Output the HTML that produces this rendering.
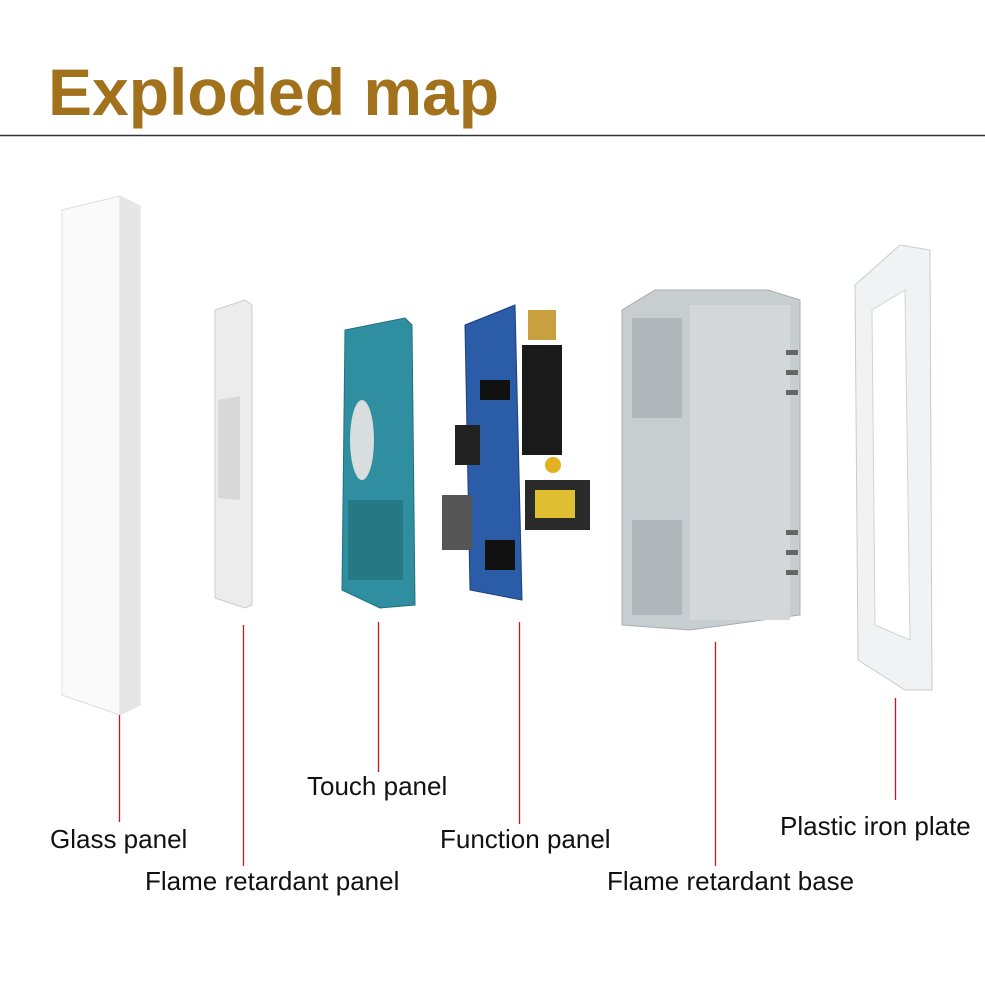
<!DOCTYPE html>
<html><head><style>
html,body{margin:0;padding:0;background:#fff;width:985px;height:985px;overflow:hidden}
svg{display:block}
text{font-family:"Liberation Sans",sans-serif}
</style></head><body>
<svg width="985" height="985" viewBox="0 0 985 985" xmlns="http://www.w3.org/2000/svg">
<rect width="985" height="985" fill="#fff"/>
<text x="48" y="115" font-size="66" font-weight="bold" fill="#a2711c">Exploded map</text>
<line x1="0" y1="135.5" x2="985" y2="135.5" stroke="#333" stroke-width="1.5"/>

<polygon points="62,210 120,196 140,206 140,705 120,715 62,695" fill="#f4f4f4" stroke="#ddd"/>
<polygon points="120,196 140,206 140,705 120,715" fill="#e6e6e6"/>
<polygon points="62,210 120,196 120,715 62,695" fill="#fafafa" stroke="#e0e0e0"/>

<polygon points="215,310 245,300 252,305 252,605 245,608 215,598" fill="#ececec" stroke="#ccc"/>
<polygon points="218,400 240,396 240,500 218,498" fill="#d8d8d8"/>

<polygon points="345,330 405,318 412,325 415,605 380,608 342,590" fill="#2f8fa0" stroke="#23707d"/>
<ellipse cx="362" cy="440" rx="12" ry="40" fill="#d8dde0"/>
<rect x="348" y="500" width="55" height="80" fill="#267885"/>

<polygon points="465,325 515,305 522,600 470,590" fill="#2a5ca8" stroke="#1d417a"/>
<rect x="522" y="345" width="40" height="110" fill="#1a1a1a"/>
<rect x="528" y="310" width="28" height="30" fill="#c8a040"/>
<rect x="525" y="480" width="65" height="50" fill="#2a2a2a"/>
<rect x="535" y="490" width="40" height="28" fill="#e0c030"/>
<rect x="455" y="425" width="25" height="40" fill="#222"/>
<rect x="442" y="495" width="30" height="55" fill="#555"/>
<circle cx="553" cy="465" r="8" fill="#e2b020"/>
<rect x="480" y="380" width="30" height="20" fill="#111"/>
<rect x="485" y="540" width="30" height="30" fill="#111"/>

<polygon points="622,310 655,290 768,290 800,300 800,615 690,630 622,625" fill="#c8cdd0" stroke="#a8adb0"/>
<rect x="632" y="318" width="50" height="100" fill="#b0b6ba"/>
<rect x="632" y="520" width="50" height="95" fill="#b0b6ba"/>
<rect x="690" y="305" width="100" height="315" fill="#d3d7da"/>
<g fill="#666"><rect x="786" y="350" width="12" height="5"/><rect x="786" y="370" width="12" height="5"/><rect x="786" y="390" width="12" height="5"/><rect x="786" y="530" width="12" height="5"/><rect x="786" y="550" width="12" height="5"/><rect x="786" y="570" width="12" height="5"/></g>

<polygon points="855,285 900,245 930,250 932,690 905,690 858,660" fill="#f0f2f4" stroke="#c8ccd0"/>
<polygon points="872,310 905,290 910,640 875,625" fill="#fff" stroke="#d0d4d8"/>

<g stroke="#d0141c" stroke-width="1.3">
<line x1="119.5" y1="715" x2="119.5" y2="822"/>
<line x1="243.5" y1="625" x2="243.5" y2="866"/>
<line x1="378.5" y1="622" x2="378.5" y2="772"/>
<line x1="519.5" y1="622" x2="519.5" y2="824"/>
<line x1="715.5" y1="642" x2="715.5" y2="866"/>
<line x1="895.5" y1="698" x2="895.5" y2="800"/>
</g>

<g font-size="26" fill="#111">
<text x="50" y="848">Glass panel</text>
<text x="145" y="890">Flame retardant panel</text>
<text x="307" y="795">Touch panel</text>
<text x="440" y="848">Function panel</text>
<text x="607" y="890">Flame retardant base</text>
<text x="780" y="835">Plastic iron plate</text>
</g>
</svg>
</body></html>
